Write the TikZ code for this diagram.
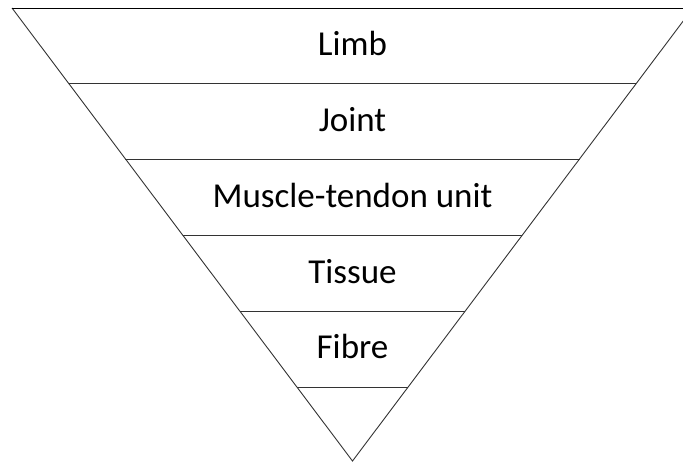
\documentclass[tikz,border=0pt]{standalone}
\usepackage{fontspec}
\setmainfont{Carlito}
\usepackage{tikz}
\usetikzlibrary{calc, positioning}

\tikzset{
    level/.style={anchor=base, font=\fontsize{35}{40}\selectfont},
    edge/.style={line width=0.9pt, draw=black!80}
}

\begin{document}
\begin{tikzpicture}[x=1pt, y=-1pt]
    % Khung hình
    \useasboundingbox (0,0) rectangle (683,461);
    \clip (0,0) rectangle (683,461);

    % Tam giác ngược
    \coordinate (tl) at (12,8);
    \coordinate (tr) at (693,8);
    \coordinate (apex) at (352.5,461);
    \draw[edge] (tl) -- (apex) -- (tr);
    \draw[line width=1pt] (tl) -- (tr);

    % Các vạch ngang
    \foreach \y in {83.5,159,235,311,387} {
        \draw[edge] ($(tl)!{(\y-8)/453}!(apex)$) -- ($(tr)!{(\y-8)/453}!(apex)$);
    }

    % Các mức
    \node[level] (limb) at (352.5,55) {Limb};
    \node[level] (joint) at (352.5,131.5) {Joint};
    \node[level] (mtu) at (352.5,207) {Muscle-tendon unit};
    \node[level] (tissue) at (352.5,283) {Tissue};
    \node[level] (fibre) at (352.5,358.5) {Fibre};
\end{tikzpicture}
\end{document}
